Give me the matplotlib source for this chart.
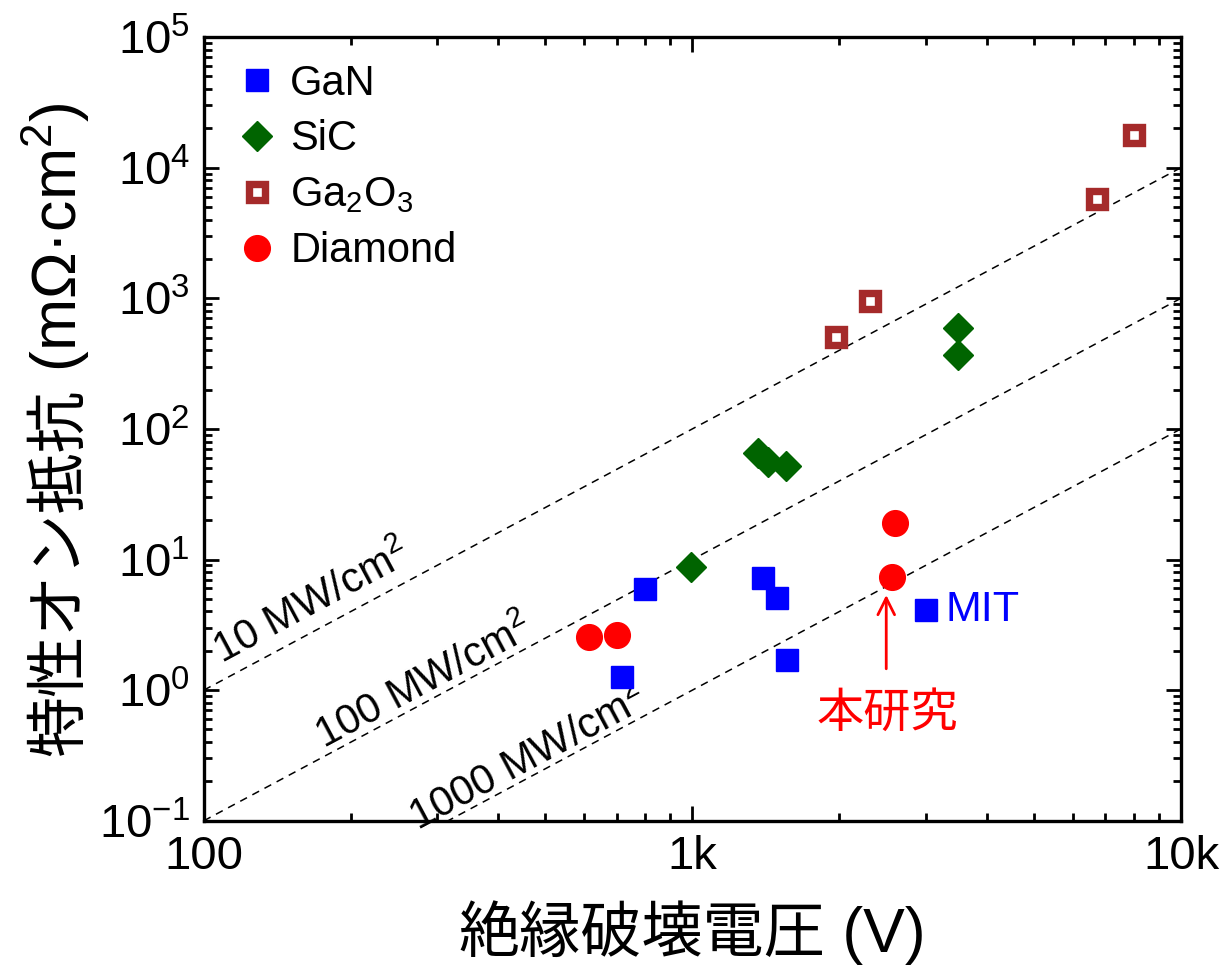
import numpy as np
import matplotlib
matplotlib.use("Agg")
import matplotlib.pyplot as plt
from matplotlib.ticker import FixedLocator, LogLocator, NullFormatter, FixedFormatter

plt.rcParams['font.family'] = ['Liberation Sans', 'Noto Sans CJK JP']
plt.rcParams['mathtext.fontset'] = 'custom'
plt.rcParams['mathtext.rm'] = 'Liberation Sans'
plt.rcParams['mathtext.it'] = 'Liberation Sans:italic'
plt.rcParams['mathtext.bf'] = 'Liberation Sans:bold'
plt.rcParams['axes.unicode_minus'] = False

# データ (V, mΩ·cm²)
gan_v = [800, 717, 1394, 1489, 1562]
gan_r = [5.9, 1.25, 7.2, 5.1, 1.7]
mit_v = [3006]
mit_r = [4.1]
sic_v = [994, 1362, 1428, 1553, 3496, 3496]
sic_r = [8.8, 65, 56, 52, 592, 367]
ga2o3_v = [1967, 2308, 6730, 8016]
ga2o3_r = [505, 952, 5740, 17700]
dia_v = [615, 700, 2601]
dia_r = [2.55, 2.65, 19]
this_v = [2557]
this_r = [7.3]

fom_vals = [1e7, 1e8, 1e9]          # W/cm²
fom_labels = ['10 MW/cm$^2$', '100 MW/cm$^2$', '1000 MW/cm$^2$']
fom_label_v = [174, 296, 482]
fom_label_fac = [1.12, 0.95, 0.93]

fig = plt.figure(figsize=(12.28, 9.69), dpi=100)
ax_rect = [0.166, 0.153, 0.7957, 0.8088]
ax = fig.add_axes(ax_rect)

# 性能指数の線 R = V²/FOM
vline = np.array([100.0, 10000.0])
for fom in fom_vals:
    ax.plot(vline, vline**2 / fom * 1e3, color='black', lw=1.1, ls=(0, (5, 4)), zorder=1)

ax.plot(gan_v + mit_v, gan_r + mit_r, ls='none', marker='s', ms=16.3, color='blue',
        mec='blue', label='GaN', zorder=3)
ax.plot(sic_v, sic_r, ls='none', marker='D', ms=15.5, color='#006400', mec='#006400',
        label='SiC', zorder=3)
ax.plot(ga2o3_v, ga2o3_r, ls='none', marker='s', ms=11, mfc='white', mec='#a52a2a',
        mew=5.3, label='Ga$_2$O$_3$', zorder=3)
ax.plot(dia_v + this_v, dia_r + this_r, ls='none', marker='o', ms=18.5, color='red',
        mec='red', label='Diamond', zorder=3)

ax.set_xscale('log')
ax.set_yscale('log')
ax.set_xlim(100, 10000)
ax.set_ylim(0.1, 1e5)

# 線のラベル
ang = np.degrees(np.arctan(2 * (ax_rect[3] * 969 / 6) / (ax_rect[2] * 1228 / 2)))
for fom, lab, v, f in zip(fom_vals, fom_labels, fom_label_v, fom_label_fac):
    ax.text(v, v**2 / fom * 1e3 * f, lab, fontsize=30, rotation=ang,
            rotation_mode='anchor', ha='center', va='bottom', zorder=2)

# 本研究
ax.annotate('', xy=(this_v[0] * 0.975, this_r[0] * 0.77),
             xytext=(this_v[0] * 0.975, this_r[0] * 0.19),
             arrowprops=dict(arrowstyle='->', color='red', lw=2, mutation_scale=30))
ax.text(this_v[0] * 0.98, this_r[0] * 0.088, '本研究', color='red', fontsize=34,
        ha='center', va='center')
ax.annotate('MIT', xy=(mit_v[0], mit_r[0]), xytext=(14, 0), textcoords='offset points',
            color='blue', fontsize=31, ha='left', va='center')

ax.xaxis.set_major_locator(FixedLocator([100, 1000, 10000]))
ax.xaxis.set_major_formatter(FixedFormatter(['100', '1k', '10k']))
ax.xaxis.set_minor_locator(LogLocator(base=10, subs=np.arange(2, 10)))
ax.xaxis.set_minor_formatter(NullFormatter())
ax.yaxis.set_minor_locator(LogLocator(base=10, subs=np.arange(2, 10), numticks=20))
ax.yaxis.set_minor_formatter(NullFormatter())

ax.tick_params(which='both', direction='in', top=True, right=True, width=2)
ax.tick_params(which='major', length=11, labelsize=34, pad=10)
ax.tick_params(which='minor', length=6)
for s in ax.spines.values():
    s.set_linewidth(2.4)

ax.legend(loc='upper left', bbox_to_anchor=(0.033, 0.966), frameon=False, fontsize=30,
          handlelength=1.0, handletextpad=0.3, labelspacing=0.38, borderaxespad=0,
          borderpad=0, numpoints=1)

# 軸ラベル (漢字部分と英字部分で大きさを変える)
W, H = fig.get_size_inches() * fig.dpi
renderer = fig.canvas.get_renderer()
cjk_kw = dict(fontsize=44, family=['Noto Sans CJK JP'])
lat_kw = dict(fontsize=45, family=['Liberation Sans'])


def part_widths(parts):
    ws = []
    for s, kw in parts:
        t = fig.text(0, 0, s, **kw)
        ws.append(t.get_window_extent(renderer).width)
        t.remove()
    return ws


xparts = [('絶縁破壊電圧', cjk_kw), (' (V)', lat_kw)]
ws = part_widths(xparts)
cx = (ax_rect[0] + ax_rect[2] / 2) * W
x0 = cx - sum(ws) / 2
for (s, kw), w in zip(xparts, ws):
    fig.text(x0 / W, 1 - 952 / H, s, ha='left', va='baseline', **kw)
    x0 += w

yparts = [('特性オン抵抗', cjk_kw), (' (mΩ·cm$^2$)', lat_kw)]
ws = part_widths(yparts)
cy = (ax_rect[1] + ax_rect[3] / 2) * H
y0 = cy - sum(ws) / 2
for (s, kw), w in zip(yparts, ws):
    fig.text(77 / W, y0 / H, s, ha='left', va='baseline', rotation=90,
             rotation_mode='anchor', **kw)
    y0 += w

fig.savefig('out.png', dpi=100)
